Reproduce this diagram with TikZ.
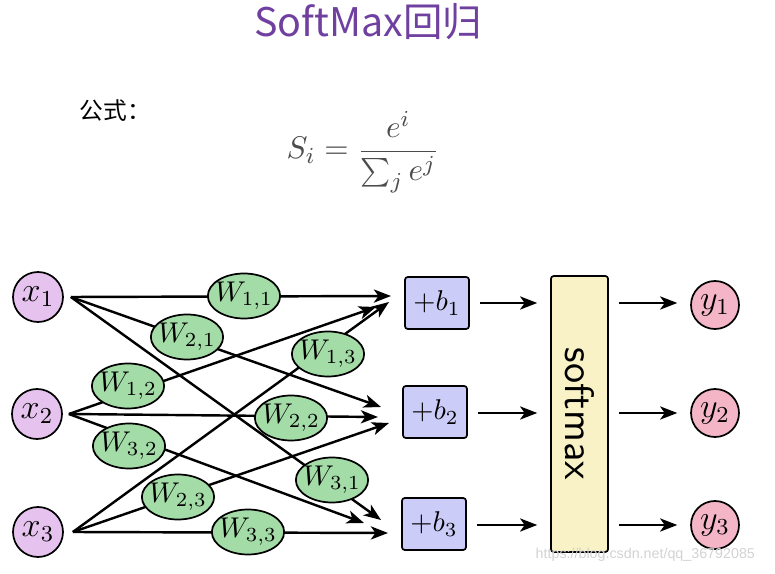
\documentclass[tikz,border=0pt]{standalone}
\usepackage{fontspec}
\newfontfamily\cjk{Noto Sans CJK SC}
\newfontfamily\wmfont{Liberation Sans}
\usetikzlibrary{arrows.meta,calc,shapes.geometric}
\definecolor{xfill}{HTML}{E6C3EE}
\definecolor{wfill}{HTML}{A4DCA8}
\definecolor{bfill}{HTML}{CCCCF8}
\definecolor{sfill}{HTML}{F8F2C6}
\definecolor{yfill}{HTML}{F4B6C6}
\definecolor{titlec}{HTML}{7040A0}
\tikzset{
  xnode/.style={circle,draw,fill=xfill,minimum size=17.5pt,inner sep=0pt,line width=0.6pt,font=\large},
  ynode/.style={circle,draw,fill=yfill,minimum size=16.8pt,inner sep=0pt,line width=0.6pt,font=\large},
  wnode/.style={ellipse,draw,fill=wfill,minimum width=24.5pt,minimum height=15.75pt,inner xsep=-1.2pt,inner ysep=0pt,line width=0.6pt},
  bnode/.style={rectangle,draw,fill=bfill,rounded corners=1pt,minimum width=22.4pt,minimum height=18.2pt,inner sep=0pt,line width=0.6pt},
  smnode/.style={rectangle,draw,fill=sfill,rounded corners=1pt,minimum width=96.6pt,minimum height=20pt,inner sep=0pt,rotate=-90,font=\sffamily\Large,line width=0.6pt},
  conn/.style={-{Stealth[length=6pt,width=4.6pt,inset=1.6pt]},line width=0.85pt},
}
\begin{document}
\begin{tikzpicture}[x=0.35pt,y=-0.35pt]
\useasboundingbox (0,0) rectangle (775,574);
% texts
\node[font=\cjk\fontsize{13.8}{16}\selectfont,text=titlec] (title) at (368,22) {SoftMax回归};
\node[font=\cjk\fontsize{8.3}{10}\selectfont,anchor=west,inner sep=0pt] (gs) at (79,111) {公式：};
\node[font=\fontsize{11}{13}\selectfont,text=black!70] (formula) at (363,152) {$\displaystyle S_i = \frac{e^i}{\sum_j e^j}$};
% inputs
\node[xnode] (x1) at (38,297) {$x_1$};
\node[xnode] (x2) at (37,414) {$x_2$};
\node[xnode] (x3) at (38,532) {$x_3$};
% bias boxes
\node[bnode] (b1) at (437,303) {$+b_1$};
\node[bnode] (b2) at (435,412) {$+b_2$};
\node[bnode] (b3) at (434,524) {$+b_3$};
% softmax (rotated: south = left side, north = right side)
\node[smnode] (sm) at (579.5,414) {softmax};
% outputs
\node[ynode] (y1) at (715,305) {$y_1$};
\node[ynode] (y2) at (715,413) {$y_2$};
\node[ynode] (y3) at (715,525) {$y_3$};
% start / end points
\coordinate (s1) at ($(x1.east)+(7,0)$);
\coordinate (s2) at ($(x2.east)+(6,0)$);
\coordinate (s3) at ($(x3.east)+(9,0)$);
\coordinate (e11) at (391,296);
\coordinate (e12) at (376,307);
\coordinate (e13) at (389,302);
\coordinate (e21) at (381,407);
\coordinate (e22) at (378,417);
\coordinate (e23) at (389,423);
\coordinate (e31) at (381,520);
\coordinate (e32) at (364,523);
\coordinate (e33) at (388,533);
% weighted connectors
\draw[conn] (s1) -- (e11);
\draw[conn] (s1) -- (e21);
\draw[conn] (s1) -- (e31);
\draw[conn] (s2) -- (e12);
\draw[conn] (s2) -- (e22);
\draw[conn] (s2) -- (e32);
\draw[conn] (s3) -- (e13);
\draw[conn] (s3) -- (e23);
\draw[conn] (s3) -- (e33);
% weights
\node[wnode] (w11) at (244,296) {$W_{1,1}$};
\node[wnode] (w21) at (187,337) {$W_{2,1}$};
\node[wnode] (w31) at (332,480) {$W_{3,1}$};
\node[wnode] (w12) at (128,386) {$W_{1,2}$};
\node[wnode] (w22) at (291,418) {$W_{2,2}$};
\node[wnode] (w32) at (129,446) {$W_{3,2}$};
\node[wnode] (w13) at (328,354) {$W_{1,3}$};
\node[wnode] (w23) at (178,497) {$W_{2,3}$};
\node[wnode] (w33) at (248,532) {$W_{3,3}$};
% bias -> softmax -> outputs
\foreach \i/\yy in {1/303,2/413,3/525}{
  \draw[conn,shorten <=3.5pt,shorten >=4.5pt] (b\i.east |- 0,\yy) -- (sm.south |- 0,\yy);
  \draw[conn,shorten <=3.5pt,shorten >=4.5pt] (sm.north |- 0,\yy) -- (y\i.west |- 0,\yy);
}
% watermark
\node[font=\wmfont\fontsize{5}{6}\selectfont,text=gray!35,anchor=east] (wm) at (765,555) {https://blog.csdn.net/qq\_36792085};
\end{tikzpicture}
\end{document}
